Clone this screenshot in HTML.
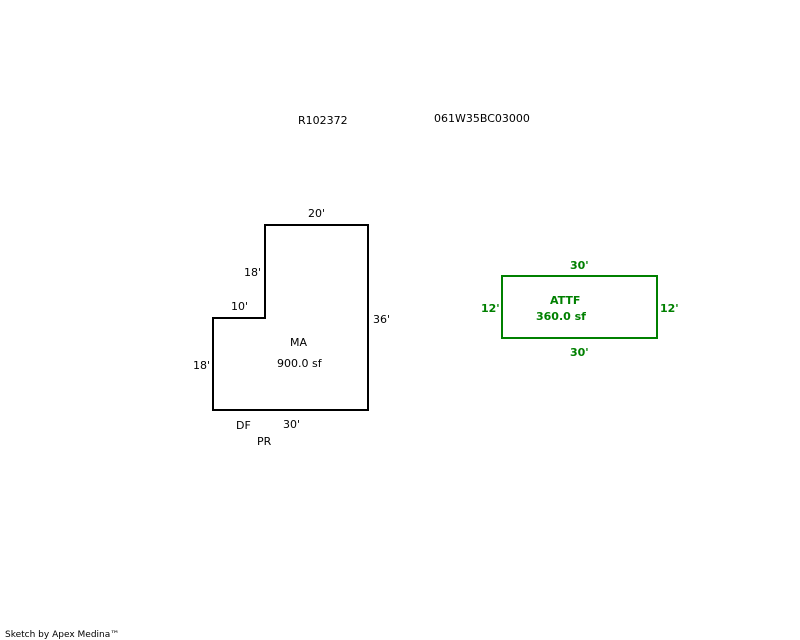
<!DOCTYPE html>
<html><head><meta charset="utf-8"><style>
html,body{margin:0;padding:0;background:#fff;}
svg{display:block;}
text{font-family:"DejaVu Sans","Liberation Sans",sans-serif;font-size:11px;}
.g{fill:#008000;font-weight:bold;}
</style></head><body>
<svg width="800" height="640" viewBox="0 0 800 640" xmlns="http://www.w3.org/2000/svg">
<rect width="800" height="640" fill="#fff"/>
<text x="298" y="124">R102372</text>
<text x="434" y="122">061W35BC03000</text>
<polygon points="213,318 265,318 265,225 368,225 368,410 213,410" fill="none" stroke="#000" stroke-width="2"/>
<text x="308" y="217">20'</text>
<text x="244" y="276">18'</text>
<text x="231" y="310">10'</text>
<text x="373" y="323">36'</text>
<text x="193" y="369">18'</text>
<text x="290" y="346">MA</text>
<text x="277" y="367">900.0 sf</text>
<text x="236" y="429">DF</text>
<text x="283" y="428">30'</text>
<text x="257" y="445">PR</text>
<rect x="502" y="276" width="155" height="62" fill="none" stroke="#008000" stroke-width="2"/>
<text class="g" x="570" y="269">30'</text>
<text class="g" x="570" y="356">30'</text>
<text class="g" x="481" y="312">12'</text>
<text class="g" x="660" y="312">12'</text>
<text class="g" x="550" y="304">ATTF</text>
<text class="g" x="536" y="320">360.0 sf</text>
<text x="5" y="637" style="font-size:9px">Sketch by Apex Medina™</text>
</svg>
</body></html>
